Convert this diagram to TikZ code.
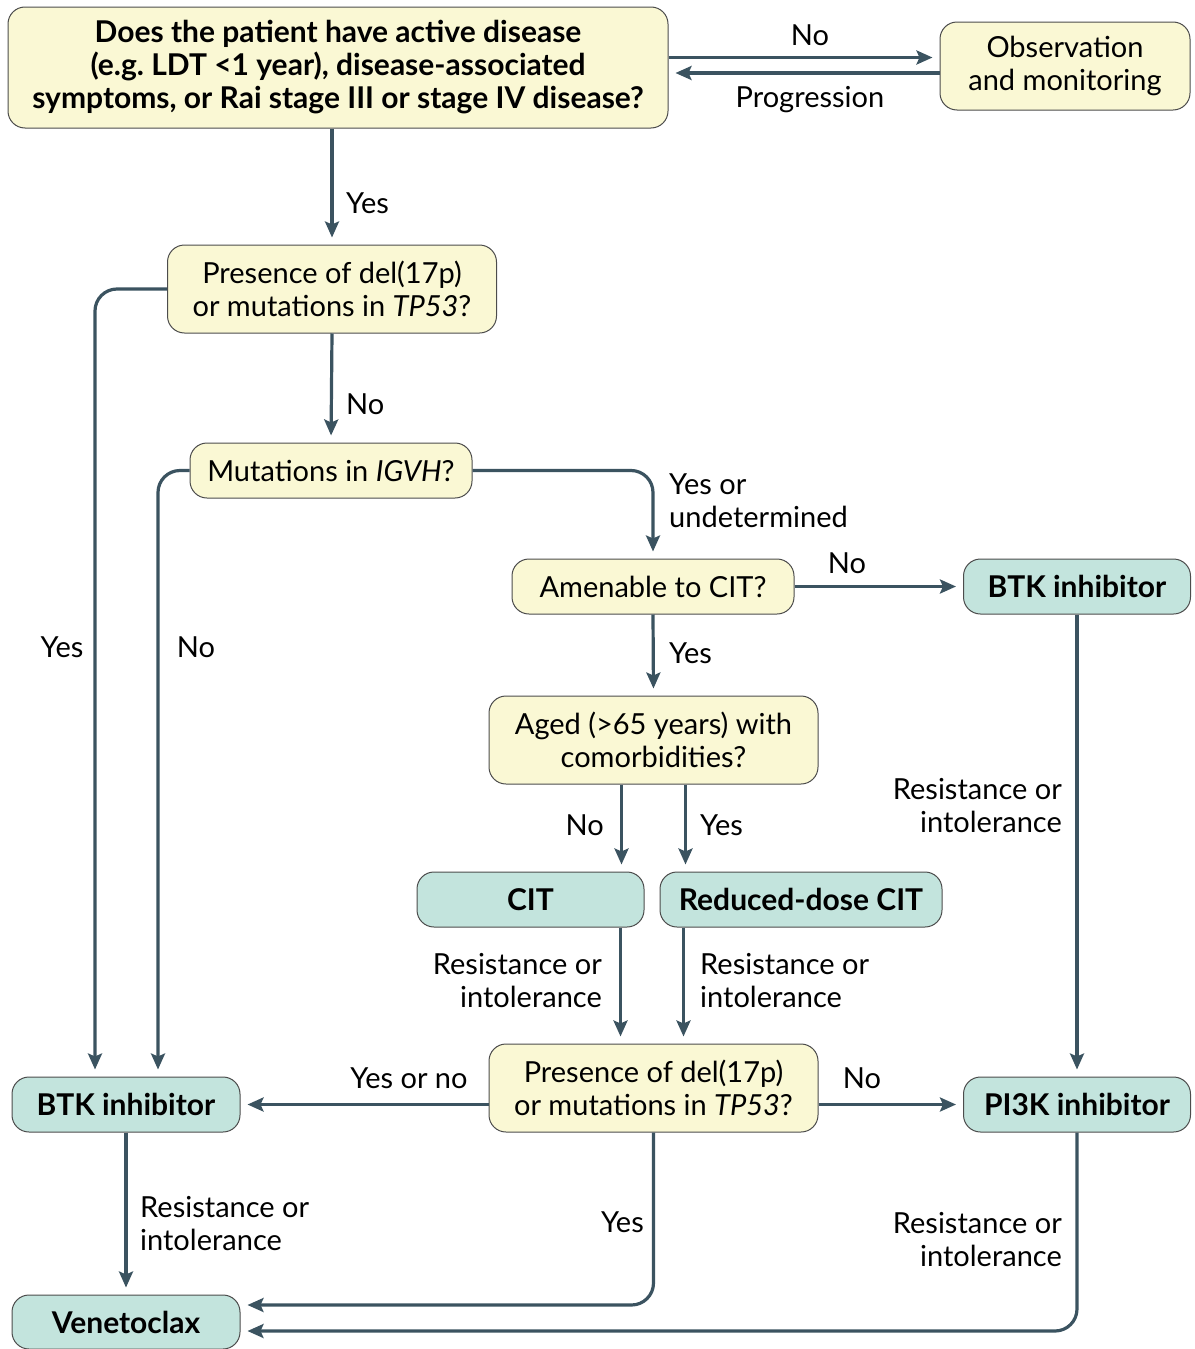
\documentclass[tikz,border=0pt]{standalone}
\usepackage{fontspec}
\setmainfont{Lato}
\usetikzlibrary{arrows.meta}
\definecolor{qfill}{HTML}{FAF8D4}
\definecolor{tfill}{HTML}{C3E4DD}
\definecolor{arr}{HTML}{3B5360}
\tikzset{
  qbox/.style={draw=black!70,line width=1pt,rounded corners=17pt,fill=qfill,
    align=center,inner sep=0pt,font=\fontsize{29}{33}\selectfont},
  tbox/.style={qbox,fill=tfill,font=\fontsize{30}{33}\selectfont\bfseries},
  flow/.style={draw=arr,line width=3.2pt,rounded corners=22pt,shorten >=7pt,
    -{Stealth[length=16pt,width=14pt,inset=3pt]}},
  lbl/.style={font=\fontsize{29}{33}\selectfont,inner sep=0pt}
}
\begin{document}
\begin{tikzpicture}[x=1pt,y=-1pt]
\useasboundingbox (0,0) rectangle (1194,1349);
% question boxes
\node[qbox,minimum width=660pt,minimum height=121pt,font=\fontsize{30}{33}\selectfont\bfseries] (q1) at (338,67.5)
  {Does the patient have active disease\\(e.g.\ LDT <1 year), disease-associated\\symptoms, or Rai stage III or stage IV disease?};
\node[qbox,minimum width=250pt,minimum height=88pt] (obs) at (1065,66) {Observation\\and monitoring};
\node[qbox,minimum width=329pt,minimum height=88pt] (q2) at (332,289) {Presence of del(17p)\\or mutations in \textit{TP53}?};
\node[qbox,minimum width=282pt,minimum height=55pt] (q3) at (331,470.5) {Mutations in \textit{IGVH}?};
\node[qbox,minimum width=282pt,minimum height=55pt] (q4) at (653,586.5) {Amenable to CIT?};
\node[qbox,minimum width=329pt,minimum height=88pt] (q5) at (653.5,740) {Aged (>65 years) with\\comorbidities?};
\node[qbox,minimum width=329pt,minimum height=88pt] (q6) at (653.5,1088) {Presence of del(17p)\\or mutations in \textit{TP53}?};
% treatment boxes
\node[tbox,minimum width=227pt,minimum height=55pt] (btkr) at (1077,586.5) {BTK inhibitor};
\node[tbox,minimum width=227pt,minimum height=55pt] (cit) at (530.5,899.5) {CIT};
\node[tbox,minimum width=282pt,minimum height=55pt] (rdc) at (801,899.5) {Reduced-dose CIT};
\node[tbox,minimum width=228pt,minimum height=55pt] (btkl) at (126,1104.5) {BTK inhibitor};
\node[tbox,minimum width=227pt,minimum height=55pt] (pi3k) at (1077,1104.5) {PI3K inhibitor};
\node[tbox,minimum width=228pt,minimum height=54pt] (ven) at (126,1322) {Venetoclax};
% connectors
\draw[flow] ([yshift=10pt]q1.east) -- ([yshift=10pt]q1.east -| obs.west);
\draw[flow] ([yshift=-7pt]obs.west) -- ([yshift=-7pt]obs.west -| q1.east);
\draw[flow] (q1.south -| q2.north) -- (q2.north);
\draw[flow] (q2.west) -| ([xshift=-31pt]btkl.north);
\draw[flow] (q2.south) -- (q3.north);
\draw[flow] (q3.west) -| ([xshift=32pt]btkl.north);
\draw[flow] (q3.east) -| (q4.north);
\draw[flow] (q4.east) -- (btkr.west);
\draw[flow] (q4.south) -- (q5.north);
\draw[flow] ([xshift=-32pt]q5.south) -- ([xshift=-32pt]q5.south |- cit.north);
\draw[flow] ([xshift=32pt]q5.south) -- ([xshift=32pt]q5.south |- rdc.north);
\draw[flow] ([xshift=-33pt]q6.north |- cit.south) -- ([xshift=-33pt]q6.north);
\draw[flow] ([xshift=30pt]q6.north |- rdc.south) -- ([xshift=30pt]q6.north);
\draw[flow] (btkr.south) -- (pi3k.north);
\draw[flow] (q6.west |- btkl.east) -- (btkl.east);
\draw[flow] (q6.east |- pi3k.west) -- (pi3k.west);
\draw[flow] (btkl.south) -- (ven.north);
\draw[flow] (q6.south) |- ([yshift=17pt]ven.east);
\draw[flow] (pi3k.south) |- ([yshift=-9pt]ven.east);
% labels
\node[lbl] (lno1) at (810,35) {No};
\node[lbl] (lprog) at (810,100) {Progression};
\node[lbl,anchor=west] (lyes1) at (346,203) {Yes};
\node[lbl,anchor=west] (lno2) at (346,404) {No};
\node[lbl] (lyes2) at (62,647) {Yes};
\node[lbl] (lno3) at (196,647) {No};
\node[lbl,anchor=west,align=left] (lyesor) at (669,501) {Yes or\\undetermined};
\node[lbl] (lno4) at (847,563) {No};
\node[lbl,anchor=west] (lyes3) at (669,653) {Yes};
\node[lbl,anchor=east] (lno5) at (604,825) {No};
\node[lbl,anchor=west] (lyes4) at (700,825) {Yes};
\node[lbl,anchor=east,align=right] (lres1) at (602,981) {Resistance or\\intolerance};
\node[lbl,anchor=west,align=left] (lres2) at (700,981) {Resistance or\\intolerance};
\node[lbl,anchor=east,align=right] (lres3) at (1062,806) {Resistance or\\intolerance};
\node[lbl] (lyesno) at (409,1078) {Yes or no};
\node[lbl] (lno6) at (862,1078) {No};
\node[lbl,anchor=west,align=left] (lres4) at (140,1224) {Resistance or\\intolerance};
\node[lbl,anchor=east] (lyes5) at (644,1222) {Yes};
\node[lbl,anchor=east,align=right] (lres5) at (1062,1240) {Resistance or\\intolerance};
\end{tikzpicture}
\end{document}
